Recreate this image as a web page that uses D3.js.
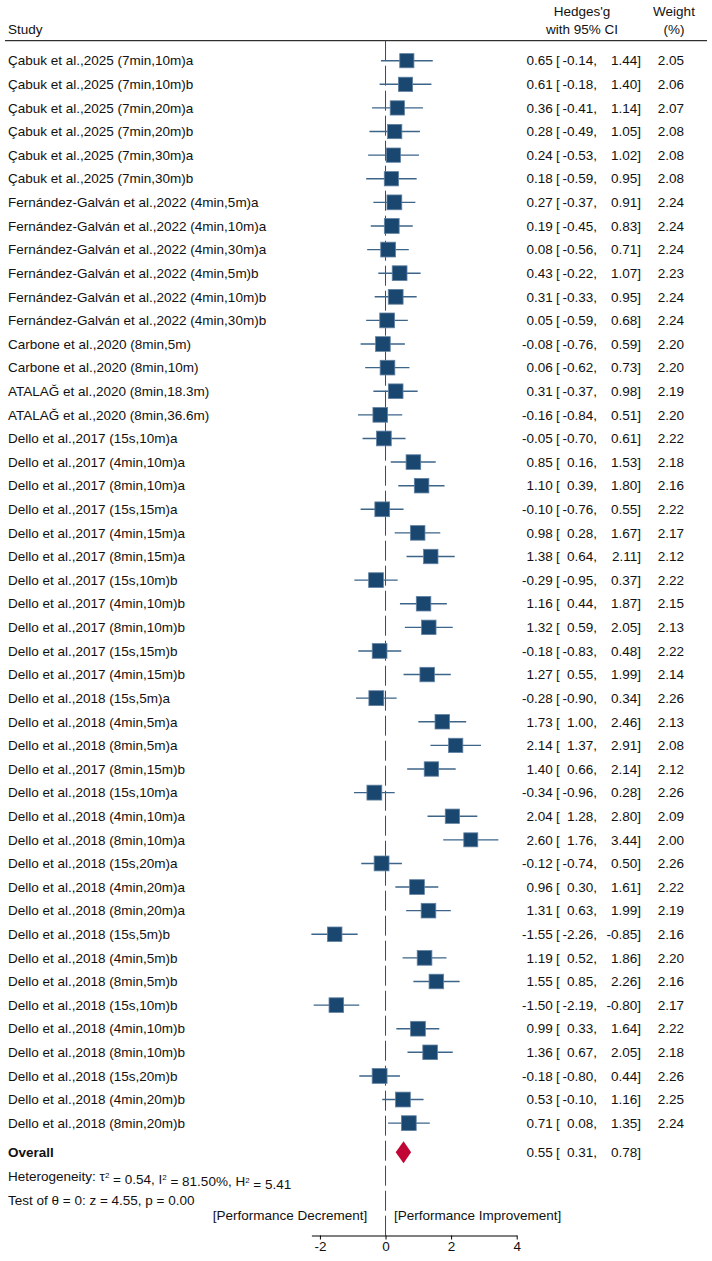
<!DOCTYPE html>
<html lang="en">

<head>
  <meta charset="utf-8">
  <title>Forest plot</title>
  <script src="https://d3js.org/d3.v7.min.js"></script>
  <style>
    body { margin: 0; background: #fff; }
    text { font-family: "Liberation Sans", Arial, sans-serif; font-size: 13.5px; fill: #111; }
  </style>
</head>

<body>
  <script type="text/javascript">
  var studies = [
    "Çabuk et al.,2025 (7min,10m)a", "Çabuk et al.,2025 (7min,10m)b",
    "Çabuk et al.,2025 (7min,20m)a", "Çabuk et al.,2025 (7min,20m)b",
    "Çabuk et al.,2025 (7min,30m)a", "Çabuk et al.,2025 (7min,30m)b",
    "Fernández-Galván et al.,2022 (4min,5m)a", "Fernández-Galván et al.,2022 (4min,10m)a",
    "Fernández-Galván et al.,2022 (4min,30m)a", "Fernández-Galván et al.,2022 (4min,5m)b",
    "Fernández-Galván et al.,2022 (4min,10m)b", "Fernández-Galván et al.,2022 (4min,30m)b",
    "Carbone et al.,2020 (8min,5m)", "Carbone et al.,2020 (8min,10m)",
    "ATALAĞ et al.,2020 (8min,18.3m)", "ATALAĞ et al.,2020 (8min,36.6m)",
    "Dello et al.,2017 (15s,10m)a", "Dello et al.,2017 (4min,10m)a",
    "Dello et al.,2017 (8min,10m)a", "Dello et al.,2017 (15s,15m)a",
    "Dello et al.,2017 (4min,15m)a", "Dello et al.,2017 (8min,15m)a",
    "Dello et al.,2017 (15s,10m)b", "Dello et al.,2017 (4min,10m)b",
    "Dello et al.,2017 (8min,10m)b", "Dello et al.,2017 (15s,15m)b",
    "Dello et al.,2017 (4min,15m)b", "Dello et al.,2018 (15s,5m)a",
    "Dello et al.,2018 (4min,5m)a", "Dello et al.,2018 (8min,5m)a",
    "Dello et al.,2017 (8min,15m)b", "Dello et al.,2018 (15s,10m)a",
    "Dello et al.,2018 (4min,10m)a", "Dello et al.,2018 (8min,10m)a",
    "Dello et al.,2018 (15s,20m)a", "Dello et al.,2018 (4min,20m)a",
    "Dello et al.,2018 (8min,20m)a", "Dello et al.,2018 (15s,5m)b",
    "Dello et al.,2018 (4min,5m)b", "Dello et al.,2018 (8min,5m)b",
    "Dello et al.,2018 (15s,10m)b", "Dello et al.,2018 (4min,10m)b",
    "Dello et al.,2018 (8min,10m)b", "Dello et al.,2018 (15s,20m)b",
    "Dello et al.,2018 (4min,20m)b", "Dello et al.,2018 (8min,20m)b"
  ];
  var es = [0.65, 0.61, 0.36, 0.28, 0.24, 0.18, 0.27, 0.19, 0.08, 0.43, 0.31, 0.05,
    -0.08, 0.06, 0.31, -0.16, -0.05, 0.85, 1.10, -0.10, 0.98, 1.38, -0.29, 1.16,
    1.32, -0.18, 1.27, -0.28, 1.73, 2.14, 1.40, -0.34, 2.04, 2.60, -0.12, 0.96,
    1.31, -1.55, 1.19, 1.55, -1.50, 0.99, 1.36, -0.18, 0.53, 0.71];
  var lower = [-0.14, -0.18, -0.41, -0.49, -0.53, -0.59, -0.37, -0.45, -0.56, -0.22, -0.33, -0.59,
    -0.76, -0.62, -0.37, -0.84, -0.70, 0.16, 0.39, -0.76, 0.28, 0.64, -0.95, 0.44,
    0.59, -0.83, 0.55, -0.90, 1.00, 1.37, 0.66, -0.96, 1.28, 1.76, -0.74, 0.30,
    0.63, -2.26, 0.52, 0.85, -2.19, 0.33, 0.67, -0.80, -0.10, 0.08];
  var upper = [1.44, 1.40, 1.14, 1.05, 1.02, 0.95, 0.91, 0.83, 0.71, 1.07, 0.95, 0.68,
    0.59, 0.73, 0.98, 0.51, 0.61, 1.53, 1.80, 0.55, 1.67, 2.11, 0.37, 1.87,
    2.05, 0.48, 1.99, 0.34, 2.46, 2.91, 2.14, 0.28, 2.80, 3.44, 0.50, 1.61,
    1.99, -0.85, 1.86, 2.26, -0.80, 1.64, 2.05, 0.44, 1.16, 1.35];
  var weights = [2.05, 2.06, 2.07, 2.08, 2.08, 2.08, 2.24, 2.24, 2.24, 2.23, 2.24, 2.24,
    2.20, 2.20, 2.19, 2.20, 2.22, 2.18, 2.16, 2.22, 2.17, 2.12, 2.22, 2.15,
    2.13, 2.22, 2.14, 2.26, 2.13, 2.08, 2.12, 2.26, 2.09, 2.00, 2.26, 2.22,
    2.19, 2.16, 2.20, 2.16, 2.17, 2.22, 2.18, 2.26, 2.25, 2.24];
  var overall = {es: 0.55, lower: 0.31, upper: 0.78};
  var xTicks = [-2, 0, 2, 4];

  var w = 712, h = 1261;
  // plain hyphen for negatives, like the original
  var f2 = function(v) { return d3.format(".2f")(v).replace('\u2212', '-'); };

  var svg = d3.select('body').append('svg')
      .attr('width', w)
      .attr('height', h);

  var x = d3.scaleLinear()
    .domain([d3.min(lower), 4])
    .range([311.4, 516.7]);
  var y = d3.scalePoint()
    .domain(d3.range(studies.length))
    .range([60.7, 60.7 + (studies.length - 1) * 23.61]);

  var yOverall = 1152.3, yAxis = 1235.5, yTop = 40.7;

  // header
  svg.append('text').attr('x', 8).attr('y', 29.3).attr('dy', '0.35em').text('Study');
  svg.append('text').attr('x', 582).attr('y', 11).attr('dy', '0.35em')
    .attr('text-anchor', 'middle').text("Hedges'g");
  svg.append('text').attr('x', 582).attr('y', 29.3).attr('dy', '0.35em')
    .attr('text-anchor', 'middle').text('with 95% CI');
  svg.append('text').attr('x', 674).attr('y', 11).attr('dy', '0.35em')
    .attr('text-anchor', 'middle').text('Weight');
  svg.append('text').attr('x', 674).attr('y', 29.3).attr('dy', '0.35em')
    .attr('text-anchor', 'middle').text('(%)');
  svg.append('line')
    .attr('x1', 5).attr('x2', 707).attr('y1', yTop).attr('y2', yTop)
    .style('stroke', '#000').style('stroke-width', 1);

  // zero line
  svg.append('line')
    .attr('x1', x(0)).attr('x2', x(0)).attr('y1', yTop).attr('y2', yAxis)
    .style('stroke', '#3030ff').style('stroke-width', 1)
    .style('stroke-dasharray', '20,5');

  var rows = svg.selectAll('g.row')
    .data(studies)
    .enter().append('g')
      .attr('class', 'row')
      .attr('transform', function(d, i) { return 'translate(0,' + y(i) + ')'; });

  rows.append('text').attr('x', 8).attr('dy', '0.35em').text(function(d) { return d; });

  rows.append('line')
    .attr('x1', function(d, i) { return x(lower[i]); })
    .attr('x2', function(d, i) { return x(upper[i]); })
    .style('stroke', '#3d6489').style('stroke-width', 1.4);

  rows.append('rect')
    .attr('x', function(d, i) { return x(es[i]) - 4.95 * Math.sqrt(weights[i]); })
    .attr('y', function(d, i) { return -4.95 * Math.sqrt(weights[i]); })
    .attr('width', function(d, i) { return 9.9 * Math.sqrt(weights[i]); })
    .attr('height', function(d, i) { return 9.9 * Math.sqrt(weights[i]); })
    .style('fill', '#1a476f').style('stroke', '#6282a3').style('stroke-width', 0.8);

  function ciText(g, e, lo, up) {
    g.append('text').attr('x', 552.7).attr('dy', '0.35em').attr('text-anchor', 'end').text(f2(e));
    g.append('text').attr('x', 556).attr('dy', '0.35em').text('[');
    g.append('text').attr('x', 597).attr('dy', '0.35em').attr('text-anchor', 'end').text(f2(lo) + ',');
    g.append('text').attr('x', 641).attr('dy', '0.35em').attr('text-anchor', 'end').text(f2(up) + ']');
  }
  rows.each(function(d, i) {
    var g = d3.select(this);
    ciText(g, es[i], lower[i], upper[i]);
    g.append('text').attr('x', 684).attr('dy', '0.35em').attr('text-anchor', 'end').text(f2(weights[i]));
  });

  // overall
  var og = svg.append('g').attr('transform', 'translate(0,' + yOverall + ')');
  og.append('text').attr('x', 8).attr('dy', '0.35em').style('font-weight', 'bold').text('Overall');
  og.append('path')
    .attr('d', 'M' + x(overall.lower) + ',0L' + x(overall.es) + ',-11L' + x(overall.upper) + ',0L' + x(overall.es) + ',11Z')
    .style('fill', '#c10534');
  ciText(og, overall.es, overall.lower, overall.upper);

  var het = svg.append('text').attr('x', 8).attr('y', 1176.5).attr('dy', '0.35em');
  het.append('tspan').text('Heterogeneity: τ');
  het.append('tspan').attr('dy', '-0.45em').style('font-size', '8px').text('2');
  het.append('tspan').attr('dy', '0.45em').text(' = 0.54, I');
  het.append('tspan').attr('dy', '-0.45em').style('font-size', '8px').text('2');
  het.append('tspan').attr('dy', '0.45em').text(' = 81.50%, H');
  het.append('tspan').attr('dy', '-0.45em').style('font-size', '8px').text('2');
  het.append('tspan').attr('dy', '0.45em').text(' = 5.41');

  svg.append('text').attr('x', 8).attr('y', 1200).attr('dy', '0.35em')
    .text('Test of θ = 0: z = 4.55, p = 0.00');

  svg.append('text').attr('x', 367.3).attr('y', 1215).attr('dy', '0.35em')
    .attr('text-anchor', 'end').text('[Performance Decrement]');
  svg.append('text').attr('x', 394).attr('y', 1215).attr('dy', '0.35em')
    .text('[Performance Improvement]');

  // axis
  var axis = svg.append('g')
    .attr('transform', 'translate(0,' + yAxis + ')')
    .call(d3.axisBottom(x).tickValues(xTicks).tickSize(4).tickSizeOuter(0).tickPadding(2)
      .tickFormat(function(d) { return String(d); }));
  axis.selectAll('text').style('font-size', '13.5px').style('font-family', '"Liberation Sans", Arial, sans-serif').attr('fill', '#111');
  axis.selectAll('path, line').attr('stroke', '#000');
  </script>
</body>

</html>
